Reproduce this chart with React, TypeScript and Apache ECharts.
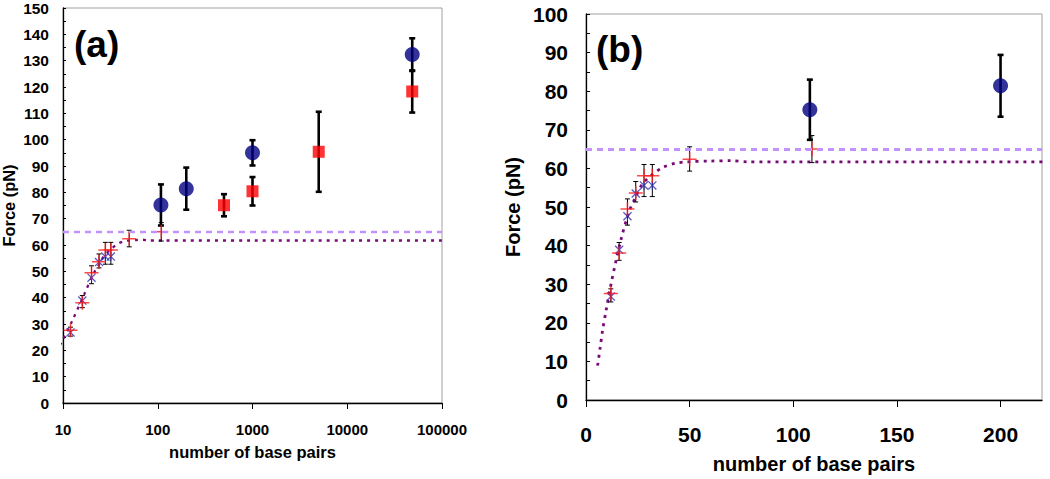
import { useEffect, useRef } from 'react';
import * as echarts from 'echarts';

const FONT = '"Liberation Sans", Arial, sans-serif';

// long molecules: two measurement sets (mean force and error)
const circleBp = [108, 200, 1000, 48502];
const circleForce = [75.2, 81.4, 95, 132.3];
const circleErr = [7.8, 8, 4.8, 6.2];

const squareBp = [500, 1000, 5000, 48502];
const squareForce = [75.1, 80.4, 95.4, 118.3];
const squareErr = [4.2, 5.4, 15.2, 8];

// short duplexes
const crossBp = [12, 16, 20, 24, 28, 32, 50, 109];
const crossForce = [27.6, 38.1, 49.5, 53.6, 58.1, 58.1, 62.4, 65];
const shortErrLow = [25.4, 36.2, 45.3, 51.3, 52.7, 52.7, 59.3, 61.5];
const shortErrHigh = [28.8, 40.8, 52.1, 56.6, 61, 61, 65.6, 68.5];

const starBp = [12, 16, 20, 24, 28, 32];
const starForce = [26.8, 38.9, 47.6, 53.5, 55.6, 55.6];

// model curve and plateau
const fitBp = [5.6, 6.8, 8, 9.7, 12.4, 16.9, 20.9, 23.7, 27, 31.7, 37.3, 43, 48.6, 60, 70, 78, 100, 1000, 100000, 130000];
const fitForce = [8.9, 13.4, 18.1, 23.2, 30.9, 41.6, 49, 52.3, 55.8, 58.3, 60.3, 61.3, 61.7, 61.9, 62, 61.7, 61.7, 61.7, 61.7, 61.7];
const plateauForce = 65;

const xTicksB = [0, 50, 100, 150, 200];

const PLUS = 'path://M0,6.25H14V7.75H0Z M6.25,0H7.75V14H6.25Z';
const STAR = 'path://M0,1L1,0L10,9L9,10Z M9,0L10,1L1,10L0,9Z M4.4,0H5.6V10H4.4Z';

function errorBars(data: number[][], width: number, cap: number) {
  return (params: any, api: any) => {
    const x = api.value(0);
    const lo = api.coord([x, api.value(1)]);
    const hi = api.coord([x, api.value(2)]);
    const style = { stroke: '#000', lineWidth: width };
    return {
      type: 'group',
      children: [
        { type: 'line', shape: { x1: lo[0], y1: lo[1], x2: hi[0], y2: hi[1] }, style },
        { type: 'line', shape: { x1: lo[0] - cap, y1: lo[1], x2: lo[0] + cap, y2: lo[1] }, style },
        { type: 'line', shape: { x1: hi[0] - cap, y1: hi[1], x2: hi[0] + cap, y2: hi[1] }, style },
      ],
    };
  };
}

function panelSeries(idx: number, xMax: number) {
  const keep = (x: number) => x <= xMax;
  const bigBars: number[][] = [];
  circleBp.forEach((x, i) => keep(x) && bigBars.push([x, circleForce[i] - circleErr[i], circleForce[i] + circleErr[i]]));
  squareBp.forEach((x, i) => keep(x) && bigBars.push([x, squareForce[i] - squareErr[i], squareForce[i] + squareErr[i]]));
  const smallBars = crossBp.map((x, i) => [x, shortErrLow[i], shortErrHigh[i]]);
  const base = { xAxisIndex: idx, yAxisIndex: idx };

  return [
    {
      ...base,
      type: 'line',
      data: fitBp.map((x, i) => [x, fitForce[i]]),
      showSymbol: false,
      smooth: 0.3,
      clip: true,
      lineStyle: { color: '#7a0a7a', width: idx === 0 ? 2.3 : 2.8, type: [3, 5] },
      markLine: {
        silent: true,
        symbol: 'none',
        label: { show: false },
        lineStyle: { color: '#c293ff', width: idx === 0 ? 2.3 : 3, type: [6, 5] },
        data: [{ yAxis: plateauForce }],
      },
      z: 1,
    },
    {
      ...base,
      type: 'custom',
      clip: true,
      renderItem: errorBars(smallBars, 1, 2.5),
      data: smallBars,
      z: 2,
    },
    {
      ...base,
      type: 'custom',
      clip: true,
      renderItem: errorBars(bigBars, 2.6, 3),
      data: bigBars,
      z: 2,
    },
    {
      ...base,
      type: 'scatter',
      data: starBp.map((x, i) => [x, starForce[i]]),
      symbol: STAR,
      symbolSize: 9,
      itemStyle: { color: '#2e2eb0' },
      z: 3,
    },
    {
      ...base,
      type: 'scatter',
      data: crossBp.map((x, i) => [x, crossForce[i]]),
      symbol: PLUS,
      symbolSize: 14,
      itemStyle: { color: '#ff1a1a' },
      z: 4,
    },
    {
      ...base,
      type: 'scatter',
      data: squareBp.filter(keep).map((x) => [x, squareForce[squareBp.indexOf(x)]]),
      symbol: 'rect',
      symbolSize: 12,
      itemStyle: { color: '#ff0000' },
      z: 5,
    },
    {
      ...base,
      type: 'scatter',
      data: circleBp.filter(keep).map((x) => [x, circleForce[circleBp.indexOf(x)]]),
      symbol: 'circle',
      symbolSize: 15,
      itemStyle: { color: '#000080' },
      z: 5,
    },
  ];
}

export default function App() {
  const chartRef = useRef<HTMLDivElement>(null);

  useEffect(() => {
    if (!chartRef.current) return;
    const chart = echarts.init(chartRef.current, null, { renderer: 'svg' });

    const axisLine = { show: true, lineStyle: { color: '#000', width: 1.3 } };
    const tickStyle = { color: '#000', width: 1 };

    const option: echarts.EChartsOption = {
      animation: false,
      textStyle: { fontFamily: FONT },
      grid: [
        { left: 61, top: 7, width: 381, height: 396, show: true, borderColor: '#a0a0a0', borderWidth: 1 },
        { left: 586, top: 14, width: 456, height: 390, show: true, borderColor: '#a0a0a0', borderWidth: 1 },
      ],
      xAxis: [
        {
          gridIndex: 0,
          type: 'log',
          logBase: 10,
          min: 10,
          max: 100000,
          axisLine,
          axisTick: { show: true, inside: false, length: 6, lineStyle: tickStyle },
          axisLabel: {
            margin: 19,
            color: '#000',
            fontWeight: 'bold',
            fontSize: 15,
            fontFamily: FONT,
            formatter: (v: number) => String(Math.round(v)),
          },
          splitLine: { show: false },
          name: 'number of base pairs',
          nameLocation: 'middle',
          nameGap: 40,
          nameTextStyle: { color: '#000', fontWeight: 'bold', fontSize: 16.5, fontFamily: FONT },
        },
        {
          gridIndex: 1,
          type: 'value',
          min: 0,
          max: 220,
          interval: 50,
          axisLine,
          axisTick: { show: true, inside: false, length: 7, lineStyle: tickStyle, customValues: xTicksB },
          axisLabel: {
            margin: 24,
            color: '#000',
            fontWeight: 'bold',
            fontSize: 21,
            fontFamily: FONT,
            customValues: xTicksB,
          },
          splitLine: { show: false },
          name: 'number of base pairs',
          nameLocation: 'middle',
          nameGap: 54,
          nameTextStyle: { color: '#000', fontWeight: 'bold', fontSize: 20, fontFamily: FONT },
        },
      ],
      yAxis: [
        {
          gridIndex: 0,
          type: 'value',
          min: 0,
          max: 150,
          interval: 10,
          axisLine,
          axisTick: { show: true, inside: true, length: 3, lineStyle: tickStyle },
          minorTick: { show: true, splitNumber: 2, length: 3, lineStyle: tickStyle },
          axisLabel: { margin: 14, color: '#000', fontWeight: 'bold', fontSize: 15.5, fontFamily: FONT },
          splitLine: { show: false },
          name: 'Force (pN)',
          nameLocation: 'middle',
          nameRotate: 90,
          nameGap: 46,
          nameTextStyle: { color: '#000', fontWeight: 'bold', fontSize: 16.4, fontFamily: FONT },
        },
        {
          gridIndex: 1,
          type: 'value',
          min: 0,
          max: 100,
          interval: 10,
          axisLine,
          axisTick: { show: true, inside: true, length: 4, lineStyle: tickStyle },
          minorTick: { show: true, splitNumber: 2, length: 4, lineStyle: tickStyle },
          axisLabel: { margin: 18, color: '#000', fontWeight: 'bold', fontSize: 21, fontFamily: FONT },
          splitLine: { show: false },
          name: 'Force (pN)',
          nameLocation: 'middle',
          nameRotate: 90,
          nameGap: 63,
          nameTextStyle: { color: '#000', fontWeight: 'bold', fontSize: 20, fontFamily: FONT },
        },
      ],
      graphic: [
        {
          type: 'text',
          left: 74,
          top: 26,
          style: { text: '(a)', fill: '#000', font: `bold 37px ${FONT}` },
        },
        {
          type: 'text',
          left: 596,
          top: 31,
          style: { text: '(b)', fill: '#000', font: `bold 37px ${FONT}` },
        },
      ],
      series: [...panelSeries(0, Infinity), ...panelSeries(1, 220)] as any,
    };

    chart.setOption(option);

    return () => {
      chart.dispose();
    };
  }, []);

  return (
    <div
      ref={chartRef}
      style={{ position: 'fixed', left: 0, top: 0, width: 1050, height: 479, background: '#fff' }}
    ></div>
  );
}
